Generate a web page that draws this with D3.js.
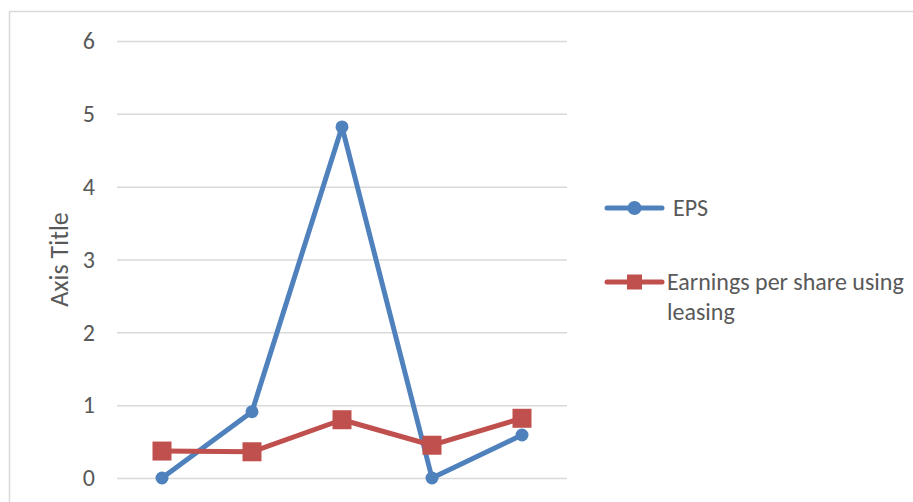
<!DOCTYPE html>
<html>
<head>
<meta charset="utf-8">
<script src="https://cdn.jsdelivr.net/npm/d3@7"></script>
<style>
  html, body { margin: 0; padding: 0; background: #fff; }
  svg { display: block; font-family: Carlito, "Open Sans", "Noto Sans", sans-serif; }
</style>
</head>
<body>
<svg id="chart" width="913" height="502"></svg>
<script>
// Categories and series values
const categories = ["1", "2", "3", "4", "5"];
const epsValues = [0, 0.91, 4.82, 0, 0.59];
const leasingValues = [0.37, 0.36, 0.8, 0.45, 0.82];
const yTicks = [0, 1, 2, 3, 4, 5, 6];
const seriesNames = ["EPS", "Earnings per share using leasing"];

const colors = { eps: "#4F81BD", leasing: "#C0504D", grid: "#D9D9D9", text: "#595959" };
const fontSize = 24;

const svg = d3.select("#chart");

// Outer chart border
svg.append("rect")
  .attr("x", 9.5).attr("y", 11.5)
  .attr("width", 940).attr("height", 520)
  .attr("fill", "none").attr("stroke", "#D9D9D9").attr("stroke-width", 1.5);

const plot = { left: 117, right: 567, top: 41, bottom: 478 };

const x = d3.scaleBand().domain(categories).range([plot.left, plot.right]);
const y = d3.scaleLinear().domain([0, 6]).range([plot.bottom, plot.top]);
const cx = d => x(d) + x.bandwidth() / 2;

// Gridlines and tick labels
const yAxis = d3.axisLeft(y).tickValues(yTicks).tickSize(-(plot.right - plot.left)).tickPadding(22).tickFormat(d3.format("d"));
const gy = svg.append("g").attr("transform", `translate(${plot.left},0)`).call(yAxis)
  .attr("font-family", null).attr("font-size", null);
gy.select(".domain").remove();
gy.selectAll(".tick line").attr("stroke", colors.grid).attr("stroke-width", 1.5);
gy.selectAll(".tick text").attr("fill", colors.text).attr("font-size", fontSize);

// Axis title
svg.append("text")
  .attr("transform", `translate(68,${(plot.top + plot.bottom) / 2}) rotate(-90)`)
  .attr("text-anchor", "middle")
  .attr("fill", colors.text).attr("font-size", 26)
  .text("Axis Title");

const line = d3.line().x((d, i) => cx(categories[i])).y(d => y(d));

// EPS series
svg.append("path").datum(epsValues)
  .attr("d", line).attr("fill", "none")
  .attr("stroke", colors.eps).attr("stroke-width", 5).attr("stroke-linejoin", "round");
svg.append("g").selectAll("circle").data(epsValues).join("circle")
  .attr("cx", (d, i) => cx(categories[i])).attr("cy", d => y(d))
  .attr("r", 6.5).attr("fill", colors.eps);

// Leasing series
svg.append("path").datum(leasingValues)
  .attr("d", line).attr("fill", "none")
  .attr("stroke", colors.leasing).attr("stroke-width", 5).attr("stroke-linejoin", "round");
const sq = 19;
svg.append("g").selectAll("rect").data(leasingValues).join("rect")
  .attr("x", (d, i) => cx(categories[i]) - sq / 2).attr("y", d => y(d) - sq / 2)
  .attr("width", sq).attr("height", sq).attr("fill", colors.leasing);

// Legend
const legend = svg.append("g");
const lg1 = legend.append("g").attr("transform", "translate(607,208)");
lg1.append("line").attr("x1", 0).attr("x2", 55).attr("stroke", colors.eps).attr("stroke-width", 5).attr("stroke-linecap", "round");
lg1.append("circle").attr("cx", 27.5).attr("r", 7).attr("fill", colors.eps);
lg1.append("text").attr("x", 66).attr("y", 8).attr("fill", colors.text).attr("font-size", fontSize).text(seriesNames[0]);

const lg2 = legend.append("g").attr("transform", "translate(607,282)");
lg2.append("line").attr("x1", 0).attr("x2", 55).attr("stroke", colors.leasing).attr("stroke-width", 5).attr("stroke-linecap", "round");
lg2.append("rect").attr("x", 20).attr("y", -7.5).attr("width", 15).attr("height", 15).attr("fill", colors.leasing);
const t2 = lg2.append("text").attr("x", 60).attr("y", 8).attr("fill", colors.text).attr("font-size", fontSize);
t2.append("tspan").attr("x", 60).text("Earnings per share using");
t2.append("tspan").attr("x", 60).attr("dy", 30).text("leasing");
</script>
</body>
</html>
